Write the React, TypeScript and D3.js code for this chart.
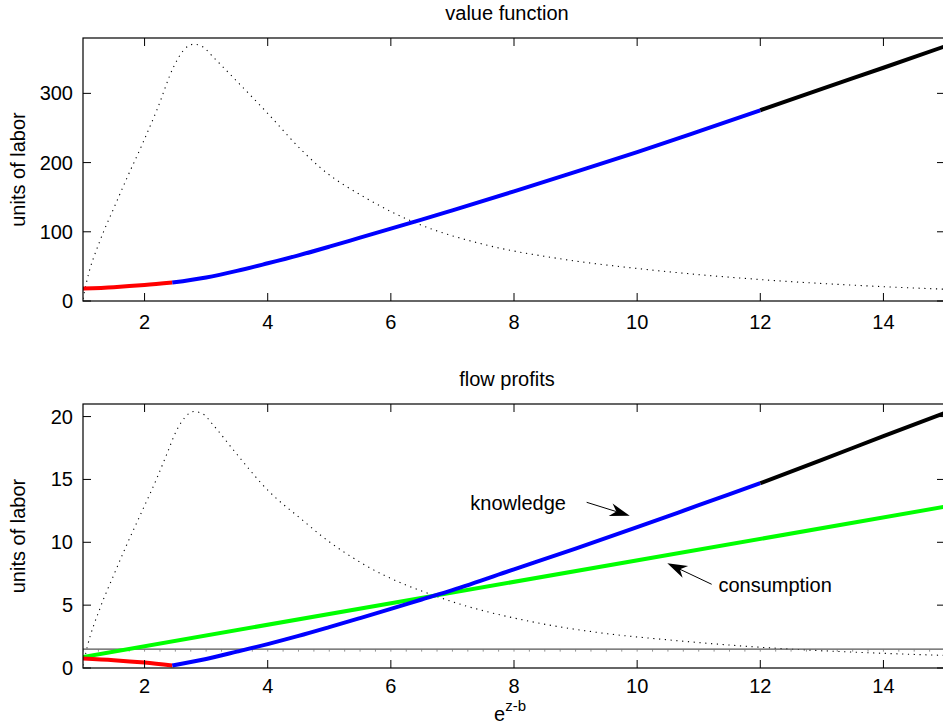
import React from "react";
import * as d3 from "d3";

// ---------- data ----------
const xGrid = [1, 1.5, 2, 2.45, 3, 3.5, 4, 4.5, 5, 5.5, 6, 6.5, 7, 8, 9, 10, 11, 12, 13, 14, 15];
const valueFn = [18, 20, 23, 26.6, 34, 43.5, 54.5, 66, 78.5, 91.5, 104.5, 117.5, 131, 158.5, 186.5, 215, 245, 275.6, 306.5, 337, 368];
const knowledgeFlow = [0.75, 0.62, 0.43, 0.2, 0.72, 1.3, 1.9, 2.55, 3.25, 3.97, 4.7, 5.45, 6.2, 7.85, 9.5, 11.2, 12.95, 14.7, 16.55, 18.45, 20.3];
const regimeBreaks = [2.45, 12];
const regimeColors = ["#ff0000", "#0000ff", "#000000"];

const consumptionX = [1, 15];
const consumptionY = [0.88, 12.83];

const thresholdLevel = 1.5;

const densTopX = [1, 1.065, 1.28, 1.5, 1.71, 1.98, 2.2, 2.47, 2.63, 2.8, 2.95, 3.12, 3.45, 3.99, 4.55, 4.85, 5.61, 6.4, 7.5, 8.75, 10, 12, 13.7, 15];
const densTopY = [3, 30, 88, 134, 177, 230, 276, 338, 362, 371, 367, 352, 322, 272, 218, 193, 148, 113, 82, 61, 47, 31, 22, 17];
const densBotX = [1, 1.065, 1.28, 1.5, 1.71, 1.98, 2.2, 2.36, 2.52, 2.65, 2.8, 2.95, 3.12, 3.45, 3.99, 4.58, 4.85, 5.61, 6.86, 8.32, 9.4, 10.59, 12, 13.73, 15];
const densBotY = [0.2, 1.6, 4.8, 7.4, 9.8, 12.7, 15.1, 17.0, 18.9, 19.9, 20.4, 20.2, 19.3, 17.3, 14.2, 11.7, 10.6, 8.1, 5.5, 3.65, 2.8, 2.2, 1.65, 1.22, 1.0];

const xTicks = [2, 4, 6, 8, 10, 12, 14];
const topYTicks = [0, 100, 200, 300];
const botYTicks = [0, 5, 10, 15, 20];

// annotations (data coords)
const knowledgeLabel = { text: "knowledge", x: 7.29, y: 12.57, from: [9.18, 13.18], to: [9.88, 12.11] };
const consumptionLabel = { text: "consumption", x: 11.32, y: 6.05, from: [11.21, 6.66], to: [10.49, 8.33] };

const FONT = "'Liberation Sans', Arial, Helvetica, sans-serif";

type Pt = [number, number];

function segments(xs: number[], ys: number[]) {
  const pts: Pt[] = xs.map((x, i) => [x, ys[i]]);
  const segs: { color: string; pts: Pt[] }[] = [];
  const bounds = [xs[0], ...regimeBreaks, xs[xs.length - 1]];
  for (let k = 0; k < bounds.length - 1; k++) {
    segs.push({ color: regimeColors[k], pts: pts.filter((p) => p[0] >= bounds[k] - 1e-9 && p[0] <= bounds[k + 1] + 1e-9) });
  }
  return segs;
}

function Arrow({ x1, y1, x2, y2 }: { x1: number; y1: number; x2: number; y2: number }) {
  const ang = Math.atan2(y2 - y1, x2 - x1);
  const L = 20, W = 6.5, notch = 14;
  const ca = Math.cos(ang), sa = Math.sin(ang);
  const p = (a: number, b: number) => [x2 - a * ca - b * -sa, y2 - a * sa - b * ca];
  const back1 = p(L, W), back2 = p(L, -W), nt = p(notch, 0);
  return (
    <g>
      <line x1={x1} y1={y1} x2={nt[0]} y2={nt[1]} stroke="#000" strokeWidth={1} />
      <path d={`M${x2},${y2}L${back1[0]},${back1[1]}L${nt[0]},${nt[1]}L${back2[0]},${back2[1]}Z`} fill="#000" />
    </g>
  );
}

function Panel({
  top, bottom, yMax, yTicks, title, lineX, lineY, densX, densY, tickOffset, extra,
}: {
  top: number; bottom: number; yMax: number; yTicks: number[]; title: string;
  lineX: number[]; lineY: number[]; densX: number[]; densY: number[]; tickOffset: number;
  extra?: (x: d3.ScaleLinear<number, number>, y: d3.ScaleLinear<number, number>) => React.ReactNode;
}) {
  const left = 83, right = 945;
  const x = d3.scaleLinear().domain([1, 15]).range([left, right]);
  const y = d3.scaleLinear().domain([0, yMax]).range([bottom, top]);
  const line = d3.line<Pt>().x((d) => x(d[0])).y((d) => y(d[1])).curve(d3.curveMonotoneX);
  const dens = line(densX.map((v, i) => [v, densY[i]] as Pt)) || "";
  const segs = segments(lineX, lineY);
  const tl = 8;
  return (
    <g>
      <text x={507} y={top - 18} textAnchor="middle" fontSize={20} fontFamily={FONT} fill="#000">{title}</text>
      <text transform={`translate(25,${(top + bottom) / 2}) rotate(-90)`} textAnchor="middle" fontSize={20} fontFamily={FONT} fill="#000">units of labor</text>
      <defs>
        <clipPath id={`clip-${top}`}><rect x={left} y={top} width={right - left} height={bottom - top} /></clipPath>
      </defs>
      <g clipPath={`url(#clip-${top})`}>
        <path d={dens} fill="none" stroke="#000" strokeWidth={1.1} strokeDasharray="1.2 4.6" />
        {extra && extra(x, y)}
        {segs.map((s, i) => (
          <path key={i} d={line(s.pts) || ""} fill="none" stroke={s.color} strokeWidth={4} strokeLinejoin="round" />
        ))}
      </g>
      <rect x={left} y={top} width={right - left} height={bottom - top} fill="none" stroke="#000" strokeWidth={1.2} />
      {xTicks.map((t) => (
        <g key={t}>
          <line x1={x(t)} x2={x(t)} y1={bottom} y2={bottom - tl} stroke="#000" />
          <line x1={x(t)} x2={x(t)} y1={top} y2={top + tl} stroke="#000" />
          <text x={x(t)} y={bottom + tickOffset} textAnchor="middle" fontSize={20} fontFamily={FONT}>{t}</text>
        </g>
      ))}
      {yTicks.map((t) => (
        <g key={t}>
          <line x1={left} x2={left + tl} y1={y(t)} y2={y(t)} stroke="#000" />
          <line x1={right} x2={right - tl} y1={y(t)} y2={y(t)} stroke="#000" />
          <text x={73} y={y(t) + 7} textAnchor="end" fontSize={20} fontFamily={FONT}>{t}</text>
        </g>
      ))}
    </g>
  );
}

export default function App() {
  return (
    <svg width={943} height={727} style={{ position: "absolute", left: 0, top: 0, background: "#fff" }}>
      <rect width={943} height={727} fill="#fff" />
      <Panel top={38} bottom={301} yMax={380} yTicks={topYTicks} title="value function" tickOffset={28}
        lineX={xGrid} lineY={valueFn} densX={densTopX} densY={densTopY} />
      <Panel top={404} bottom={668} yMax={21} yTicks={botYTicks} title="flow profits" tickOffset={25}
        lineX={xGrid} lineY={knowledgeFlow} densX={densBotX} densY={densBotY}
        extra={(x, y) => {
          const minor = d3.range(1, 15.01, 0.25);
          return (
            <g>
              <line x1={x(1)} x2={x(15)} y1={y(thresholdLevel)} y2={y(thresholdLevel)} stroke="#555" strokeWidth={1.2} />
              {minor.map((m) => (
                <line key={m} x1={x(m)} x2={x(m)} y1={y(thresholdLevel)} y2={y(thresholdLevel) + 2.5} stroke="#777" strokeWidth={0.8} />
              ))}
              <path d={d3.line<Pt>().x((d) => x(d[0])).y((d) => y(d[1]))(consumptionX.map((v, i) => [v, consumptionY[i]] as Pt)) || ""}
                fill="none" stroke="#00ff00" strokeWidth={4} />
            </g>
          );
        }}
      />
      {(() => {
        const x = d3.scaleLinear().domain([1, 15]).range([83, 945]);
        const y = d3.scaleLinear().domain([0, 21]).range([668, 404]);
        return (
          <g>
            {[knowledgeLabel, consumptionLabel].map((a) => (
              <g key={a.text}>
                <text x={x(a.x)} y={y(a.y)} fontSize={20} fontFamily={FONT}>{a.text}</text>
                <Arrow x1={x(a.from[0])} y1={y(a.from[1])} x2={x(a.to[0])} y2={y(a.to[1])} />
              </g>
            ))}
          </g>
        );
      })()}
      <text x={510} y={721} textAnchor="middle" fontFamily={FONT} fontSize={20}>
        e<tspan fontSize={15} dy={-10}>z-b</tspan>
      </text>
    </svg>
  );
}
